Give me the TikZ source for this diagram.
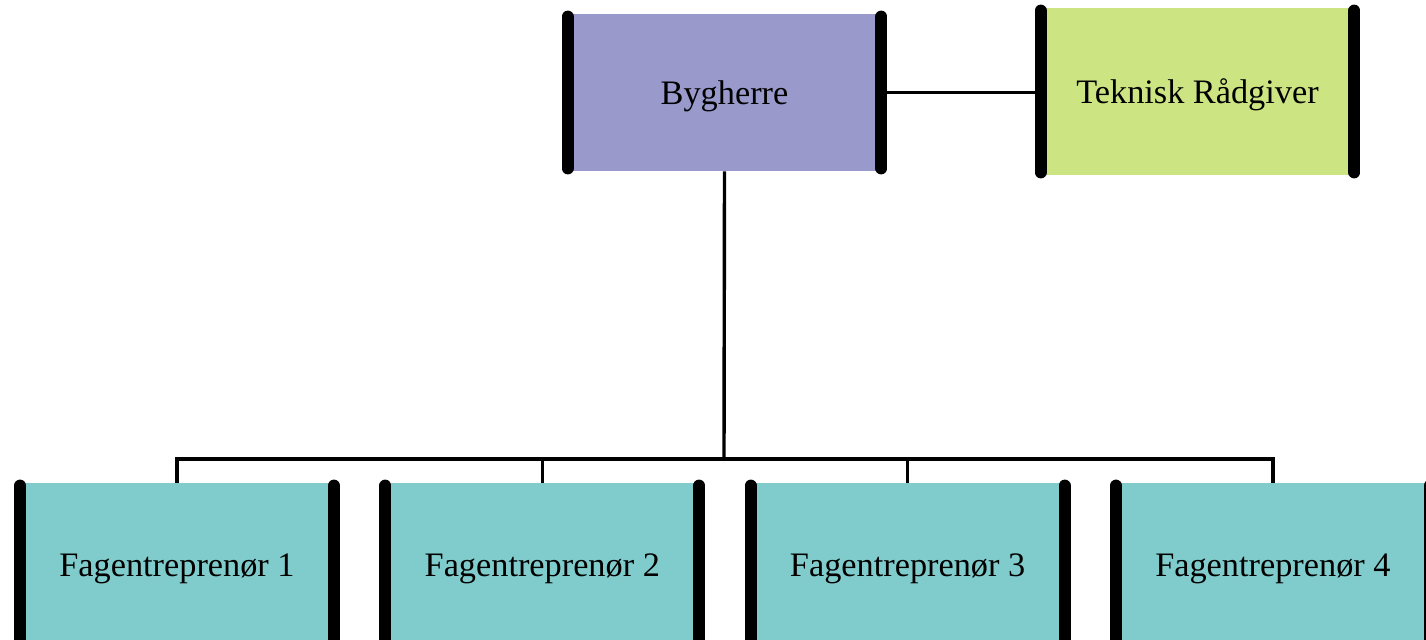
\documentclass[tikz,border=0pt]{standalone}
\usepackage{fontspec}
\setmainfont{Liberation Serif}
\usetikzlibrary{positioning,calc}
\definecolor{lavender}{RGB}{153,153,204}
\definecolor{lime}{RGB}{205,228,130}
\definecolor{aqua}{RGB}{128,204,204}
\tikzset{
  unit/.style={fill=#1,inner sep=0pt,minimum width=156.5pt,minimum height=78.5pt,
    text depth=0pt,font=\fontsize{17.15}{20}\selectfont},
  unit/.default=aqua,
  bar/.style={line width=6pt,line cap=round},
  link/.style={line width=1.7pt},
}

\begin{document}
\begin{tikzpicture}[x=0.5pt,y=-0.5pt]
  \useasboundingbox (0,0) rectangle (1426,640);
  % top row
  \node[unit=lavender] (byg) at (724.5,92.5) {Bygherre};
  \node[unit=lime,minimum height=83.5pt] (tek) at (1197.5,91.5) {Teknisk Rådgiver};
  % contractors
  \foreach \i in {1,...,4}
    \node[unit,minimum height=82pt] (fag\i) at ({177+365.3*(\i-1)},565) {Fagentreprenør \i};
  % connectors
  \coordinate (bus) at (724,459);
  \draw[link] (byg.east) -- (byg.east -| tek.west);
  \draw[link] (byg.south) -- (bus);
  \foreach \i in {1,...,4}
    \draw[link] (bus) -| (fag\i.north);
  % side bars
  \foreach \n in {byg,tek,fag1,fag2,fag3,fag4}{
    \draw[bar] ([yshift=-1.5pt]\n.north west) -- ([yshift=1.5pt]\n.south west);
    \draw[bar] ([yshift=-1.5pt]\n.north east) -- ([yshift=1.5pt]\n.south east);
  }
\end{tikzpicture}
\end{document}
